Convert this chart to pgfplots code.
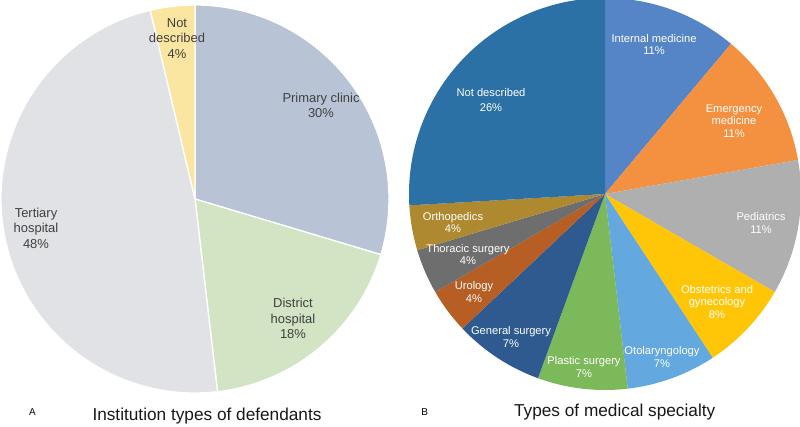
\documentclass[border=0pt]{standalone}
\usepackage{pgfplots}
\pgfplotsset{compat=1.18}
\usepackage{pgfplotstable}
\usepackage{fontspec}
\setmainfont{Liberation Sans}

\definecolor{aPrim}{HTML}{B8C4D5}
\definecolor{aDist}{HTML}{D2E4C4}
\definecolor{aTert}{HTML}{E0E2E5}
\definecolor{aNot}{HTML}{FAE6A0}
\definecolor{aText}{HTML}{404040}

\definecolor{bInt}{HTML}{5585C6}
\definecolor{bEme}{HTML}{F49140}
\definecolor{bPed}{HTML}{AFAFAF}
\definecolor{bObs}{HTML}{FFC608}
\definecolor{bOto}{HTML}{63A8DE}
\definecolor{bPla}{HTML}{7CB95A}
\definecolor{bGen}{HTML}{2E5A8F}
\definecolor{bUro}{HTML}{B65E24}
\definecolor{bTho}{HTML}{6E6E6E}
\definecolor{bOrt}{HTML}{AE8930}
\definecolor{bNot}{HTML}{2B71A5}

% counts of cases per category (slices clockwise from 12 o'clock)
\pgfplotstableread{
count colour
8  aPrim
5  aDist
13 aTert
1  aNot
}\dataA
\pgfplotstableread{
count colour
3 bInt
3 bEme
3 bPed
2 bObs
2 bOto
2 bPla
2 bGen
1 bUro
1 bTho
1 bOrt
7 bNot
}\dataB

% draw a pie from a table: #1 table, #2 cx, #3 cy, #4 radius (bp), #5 extra style
\newcommand{\drawpie}[5]{%
  \pgfplotstablegetrowsof{#1}\pgfmathtruncatemacro{\nrows}{\pgfplotsretval-1}%
  \gdef\pietotal{0}%
  \foreach \r in {0,...,\nrows}{%
    \pgfplotstablegetelem{\r}{count}\of{#1}%
    \pgfmathsetmacro{\tmp}{\pietotal+\pgfplotsretval}\xdef\pietotal{\tmp}}%
  \gdef\piecum{0}%
  \foreach \r in {0,...,\nrows}{%
    \pgfplotstablegetelem{\r}{count}\of{#1}\let\cnt\pgfplotsretval
    \pgfplotstablegetelem{\r}{colour}\of{#1}\let\col\pgfplotsretval
    \pgfmathsetmacro{\sa}{90-360*\piecum/\pietotal}%
    \pgfmathsetmacro{\newcum}{\piecum+\cnt}%
    \pgfmathsetmacro{\ea}{90-360*\newcum/\pietotal}%
    \xdef\piecum{\newcum}%
    \edef\doslice{\noexpand\filldraw[fill=\col,#5] (axis cs:#2,#3) -- ++(\sa:#4bp) arc[start angle=\sa, end angle=\ea, radius=#4bp] -- cycle;}%
    \doslice
  }%
}

\begin{document}
\begin{tikzpicture}
\begin{axis}[
  x=1bp, y=1bp,
  xmin=0, xmax=800, ymin=0, ymax=426,
  hide axis,
  clip=true,
]
\fill[white] (axis cs:0,0) rectangle (axis cs:800,426);

% Pie A  (centre at pixel (195,199))
\drawpie{\dataA}{195}{227}{194}{draw=white, line width=1.3bp}
% Pie B  (centre at pixel (605,194))
\drawpie{\dataB}{605}{232}{196}{draw=none}

% Labels A
\begin{scope}[every node/.style={align=center, text=aText, font=\fontsize{13}{15.5}\selectfont}]
\node at (axis cs:321,320.5) {Primary clinic\\30\%};
\node at (axis cs:293,107.5) {District\\hospital\\18\%};
\node at (axis cs:36,198) {Tertiary\\hospital\\48\%};
\node at (axis cs:177,387.5) {Not\\described\\4\%};
\end{scope}

% Labels B
\begin{scope}[every node/.style={align=center, text=white, font=\fontsize{11.2}{12.8}\selectfont}]
\node at (axis cs:654,381.5) {Internal medicine\\11\%};
\node at (axis cs:734,305) {Emergency\\medicine\\11\%};
\node at (axis cs:761,203) {Pediatrics\\11\%};
\node at (axis cs:717,124) {Obstetrics and\\gynecology\\8\%};
\node at (axis cs:662,69) {Otolaryngology\\7\%};
\node at (axis cs:584,59) {Plastic surgery\\7\%};
\node at (axis cs:511,89) {General surgery\\7\%};
\node at (axis cs:474,134) {Urology\\4\%};
\node at (axis cs:468,171.5) {Thoracic surgery\\4\%};
\node at (axis cs:453,203.5) {Orthopedics\\4\%};
\node[font=\fontsize{11.2}{16}\selectfont] at (axis cs:491,326) {Not described\\26\%};
\end{scope}

% Panel letters and titles
\node[anchor=base, font=\fontsize{10}{12}\selectfont] at (axis cs:32.5,11) {A};
\node[anchor=base, font=\fontsize{17.3}{20}\selectfont, text=black!90] at (axis cs:207,5.3) {Institution types of defendants};
\node[anchor=base, font=\fontsize{10}{12}\selectfont] at (axis cs:424.7,10.7) {B};
\node[anchor=base, font=\fontsize{17.3}{20}\selectfont, text=black!90] at (axis cs:614.7,10) {Types of medical specialty};
\end{axis}
\end{tikzpicture}
\end{document}
